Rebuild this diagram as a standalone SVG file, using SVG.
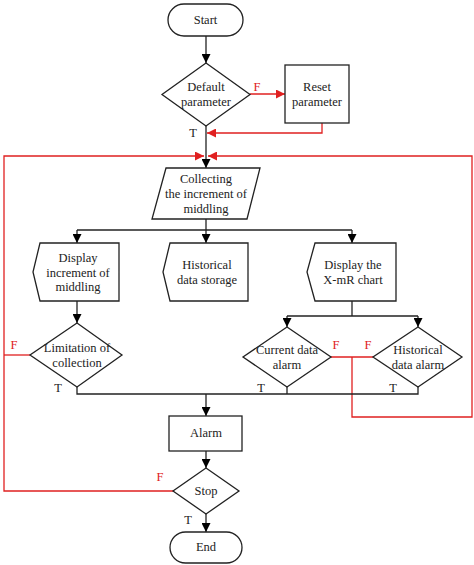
<svg xmlns="http://www.w3.org/2000/svg" width="474" height="565" viewBox="0 0 474 565">
<defs>
<marker id="ab" viewBox="0 0 10 10" refX="10" refY="5" markerWidth="9" markerHeight="9" markerUnits="userSpaceOnUse" orient="auto"><path d="M0,0 L10,5 L0,10 z" fill="#000"/></marker>
<marker id="ar" viewBox="0 0 10 10" refX="10" refY="5" markerWidth="9" markerHeight="9" markerUnits="userSpaceOnUse" orient="auto"><path d="M0,0 L10,5 L0,10 z" fill="#e02020"/></marker>
</defs>
<style>
.s{fill:#fff;stroke:#222;stroke-width:1.3}
.t{font-family:"Liberation Serif","Times New Roman",serif;font-size:12.5px;fill:#222;text-anchor:middle}
.l{font-family:"Liberation Serif","Times New Roman",serif;font-size:12.5px;text-anchor:middle}
.k{fill:none;stroke:#222;stroke-width:1.3}
.r{fill:none;stroke:#e02020;stroke-width:1.3}
.rl{fill:#e02020}
.bl{fill:#222}
</style>
<rect width="474" height="565" fill="#fff"/>
<g id="connectors">
<line class="k" x1="206" y1="36" x2="206" y2="63" marker-end="url(#ab)"/>
<line class="r" x1="250" y1="94" x2="285" y2="94" marker-end="url(#ar)"/>
<polyline class="r" points="322,123 322,133 207,133" marker-end="url(#ar)"/>
<line class="k" x1="206" y1="126" x2="206" y2="168" marker-end="url(#ab)"/>
<polyline class="r" points="173,491 4,491 4,156 204,156" marker-end="url(#ar)"/>
<line class="r" x1="30" y1="355" x2="4" y2="355"/>
<polyline class="r" points="331,357 373,357"/>
<polyline class="r" points="352,357 352,417 472,417 472,156 208,156" marker-end="url(#ar)"/>
<line class="k" x1="206" y1="219" x2="206" y2="243" marker-end="url(#ab)"/>
<line class="k" x1="77" y1="230" x2="352" y2="230"/>
<line class="k" x1="77" y1="230" x2="77" y2="243" marker-end="url(#ab)"/>
<line class="k" x1="352" y1="230" x2="352" y2="243" marker-end="url(#ab)"/>
<line class="k" x1="77" y1="301" x2="77" y2="323" marker-end="url(#ab)"/>
<line class="k" x1="352" y1="301" x2="352" y2="316"/>
<line class="k" x1="287" y1="316" x2="418" y2="316"/>
<line class="k" x1="287" y1="316" x2="287" y2="327" marker-end="url(#ab)"/>
<line class="k" x1="418" y1="316" x2="418" y2="327" marker-end="url(#ab)"/>
<polyline class="k" points="77,387 77,394 418,394 418,387"/>
<line class="k" x1="287" y1="387" x2="287" y2="394"/>
<line class="k" x1="206" y1="394" x2="206" y2="416" marker-end="url(#ab)"/>
<line class="k" x1="206" y1="451" x2="206" y2="468" marker-end="url(#ab)"/>
<line class="k" x1="206" y1="514" x2="206" y2="532" marker-end="url(#ab)"/>
<text class="l rl" x="257" y="91">F</text>
<text class="l bl" x="193" y="137">T</text>
<text class="l rl" x="14" y="349">F</text>
<text class="l rl" x="336" y="349">F</text>
<text class="l rl" x="368" y="349">F</text>
<text class="l bl" x="58" y="392">T</text>
<text class="l bl" x="261" y="392">T</text>
<text class="l bl" x="393" y="392">T</text>
<text class="l rl" x="160" y="481">F</text>
<text class="l bl" x="188" y="524">T</text>
</g>
<g id="start"><rect class="s" x="168" y="4" width="75" height="32" rx="16"/><text class="t" x="205.5" y="24">Start</text></g>
<g id="default"><polygon class="s" points="206,63 250,94.5 206,126 162,94.5"/><text class="t" x="206" y="91">Default</text><text class="t" x="206" y="106">parameter</text></g>
<g id="reset"><rect class="s" x="285" y="65" width="64" height="58"/><text class="t" x="317" y="91">Reset</text><text class="t" x="317" y="106">parameter</text></g>
<g id="collect"><polygon class="s" points="166,168 260,168 247,219 152,219"/><text class="t" x="206" y="183">Collecting</text><text class="t" x="206" y="198">the increment of</text><text class="t" x="206" y="213">middling</text></g>
<g id="display1"><polygon class="s" points="40,243 119,243 119,301 40,301 33,272"/><text class="t" x="78" y="262">Display</text><text class="t" x="78" y="277">increment of</text><text class="t" x="78" y="291">middling</text></g>
<g id="storage"><polygon class="s" points="170,243 248,243 248,301 170,301 163,272"/><text class="t" x="207" y="269">Historical</text><text class="t" x="207" y="284">data storage</text></g>
<g id="display2"><polygon class="s" points="315,243 396,243 396,301 315,301 307,272"/><text class="t" x="353" y="269">Display the</text><text class="t" x="353" y="284">X-mR chart</text></g>
<g id="limitation"><polygon class="s" points="77,323 122,355 77,387 30,355"/><text class="t" x="77" y="352">Limitation of</text><text class="t" x="77" y="367">collection</text></g>
<g id="current"><polygon class="s" points="287,327 331,357 287,387 243,357"/><text class="t" x="287" y="354">Current data</text><text class="t" x="287" y="369">alarm</text></g>
<g id="historical"><polygon class="s" points="418,327 462,357 418,387 373,357"/><text class="t" x="418" y="354">Historical</text><text class="t" x="418" y="369">data alarm</text></g>
<g id="alarm"><rect class="s" x="169" y="416" width="73" height="35"/><text class="t" x="206" y="437">Alarm</text></g>
<g id="stop"><polygon class="s" points="206,468 239,491 206,514 173,491"/><text class="t" x="206" y="495">Stop</text></g>
<g id="end"><rect class="s" x="170" y="532" width="72" height="31" rx="15.5"/><text class="t" x="206" y="551">End</text></g>
</svg>
